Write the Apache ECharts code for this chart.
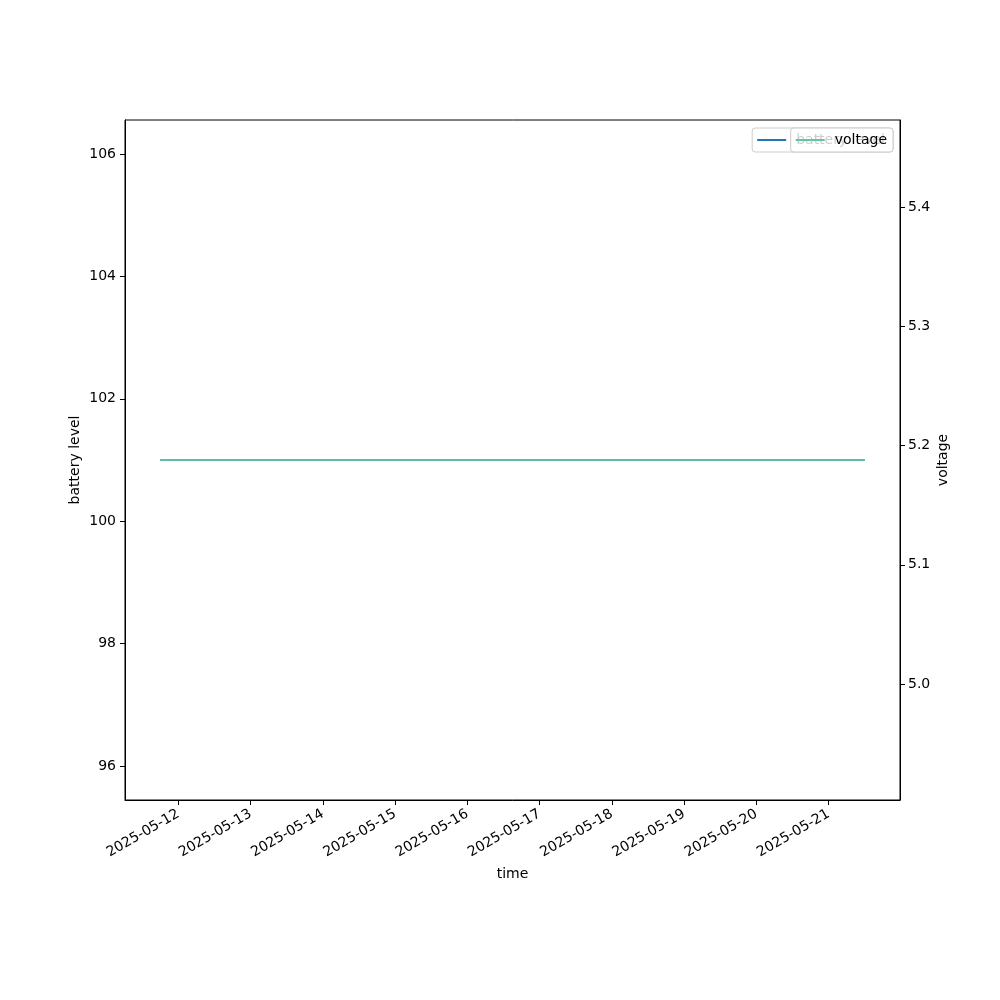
<!DOCTYPE html>
<html>
<head>
<meta charset="utf-8">
<script src="https://cdn.jsdelivr.net/npm/echarts@6/dist/echarts.min.js"></script>
<style>html,body{margin:0;padding:0;background:#fff}#c{width:1000px;height:1000px}</style>
</head>
<body>
<div id="c"></div>
<script>
var times = ['2025-05-11 18:00:00','2025-05-13 12:00:00','2025-05-15 12:00:00','2025-05-17 12:00:00','2025-05-19 12:00:00','2025-05-21 12:00:00'];
var battery = [101, 101, 101, 101, 101, 101];
var voltage = [5.188, 5.188, 5.188, 5.188, 5.188, 5.188];
var dateTicks = ['2025-05-12','2025-05-13','2025-05-14','2025-05-15','2025-05-16','2025-05-17','2025-05-18','2025-05-19','2025-05-20','2025-05-21'];
var batteryTicks = [96, 98, 100, 102, 104, 106];
var voltageTicks = [5.0, 5.1, 5.2, 5.3, 5.4];

function parseLocal(s) {
  var p = s.split(/[- :]/).map(Number);
  return new Date(p[0], p[1]-1, p[2], p[3]||0, p[4]||0, p[5]||0).getTime();
}
var tms = times.map(parseLocal);
var t0 = tms[0], t1 = tms[tms.length-1], span = t1 - t0;
var xMin = t0 - span*0.05, xMax = t1 + span*0.05;
var xTickVals = dateTicks.map(function(d){return parseLocal(d + ' 00:00:00');});

function padRange(v){ var d = Math.abs(v)*0.05; var lo=v-d, hi=v+d; var m=(hi-lo)*0.05; return [lo-m, hi+m]; }
var bR = padRange(battery[0]);
var vR = padRange(voltage[0]);

var font = 'DejaVu Sans';
var txt = {color:'#000', fontFamily:font, fontSize:14};
var legTxt = {color:'#000', fontFamily:font, fontSize:14, padding:[0,0,0,5]};
var chart = echarts.init(document.getElementById('c'));
chart.setOption({
  animation:false,
  backgroundColor:'#fff',
  textStyle:{fontFamily:font},
  grid:{left:125, right:100, top:120, bottom:200, show:true, borderColor:'#000', borderWidth:1, backgroundColor:'transparent'},
  legend:[
    {data:['battery level'], right:107, top:128, orient:'vertical', itemWidth:29, itemHeight:2, icon:'rect', itemGap:4,
     backgroundColor:'rgba(255,255,255,0.8)', borderColor:'#cccccc', borderWidth:1, borderRadius:3, padding:[5,8,5,5],
     textStyle:legTxt, z:4},
    {data:['voltage'], right:107, top:128, orient:'vertical', itemWidth:29, itemHeight:2, icon:'rect', itemGap:4,
     backgroundColor:'rgba(255,255,255,0.8)', borderColor:'#cccccc', borderWidth:1, borderRadius:3, padding:[5,6,5,5],
     textStyle:legTxt, z:5}
  ],
  xAxis:{
    type:'value', min:xMin, max:xMax, scale:true,
    name:'time', nameLocation:'middle', nameGap:67, nameTextStyle:txt, nameMoveOverlap:false,
    axisLine:{lineStyle:{color:'#000'}},
    axisTick:{show:true, length:5, lineStyle:{color:'#000'}, customValues:xTickVals},
    axisLabel:{customValues:xTickVals, rotate:30, color:'#000', fontFamily:font, fontSize:14, margin:13,
      formatter:function(v){var d=new Date(v);var mm=('0'+(d.getMonth()+1)).slice(-2);var dd=('0'+d.getDate()).slice(-2);return d.getFullYear()+'-'+mm+'-'+dd;}},
    splitLine:{show:false}
  },
  yAxis:[
    {type:'value', position:'left', min:bR[0], max:bR[1],
     name:'battery level', nameLocation:'middle', nameGap:43, nameRotate:90, nameTextStyle:txt, nameMoveOverlap:false,
     axisLine:{show:true, lineStyle:{color:'#000'}},
     axisTick:{show:true, length:5, lineStyle:{color:'#000'}, customValues:batteryTicks},
     axisLabel:{customValues:batteryTicks, color:'#000', fontFamily:font, fontSize:14, margin:9, formatter:function(v){return String(v);}},
     splitLine:{show:false}},
    {type:'value', position:'right', min:vR[0], max:vR[1],
     name:'voltage', nameLocation:'middle', nameGap:36, nameRotate:90, nameTextStyle:txt, nameMoveOverlap:false,
     axisLine:{show:true, lineStyle:{color:'#000'}},
     axisTick:{show:true, length:5, lineStyle:{color:'#000'}, customValues:voltageTicks},
     axisLabel:{customValues:voltageTicks, color:'#000', fontFamily:font, fontSize:14, margin:8, formatter:function(v){return v.toFixed(1);}},
     splitLine:{show:false}}
  ],
  series:[
    {name:'battery level', type:'line', yAxisIndex:0, showSymbol:false, color:'#1f77b4', lineStyle:{width:1.5, color:'#1f77b4'},
     data:tms.map(function(t,i){return [t, battery[i]];})},
    {name:'voltage', type:'line', yAxisIndex:1, showSymbol:false, color:'#66c2a5', lineStyle:{width:1.5, color:'#66c2a5'},
     data:tms.map(function(t,i){return [t, voltage[i]];})}
  ]
});
</script>
</body>
</html>
